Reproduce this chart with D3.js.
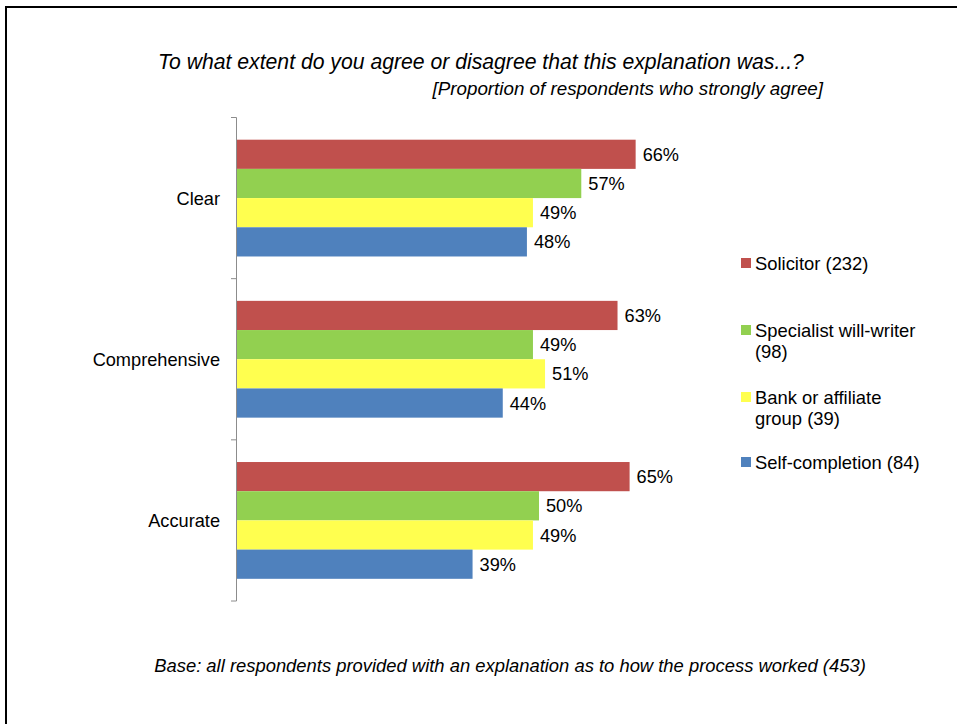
<!DOCTYPE html>
<html>
<head>
<meta charset="utf-8">
<script src="https://cdn.jsdelivr.net/npm/d3@7"></script>
<style>
  html, body { margin: 0; padding: 0; background: #fff; }
  svg { display: block; font-family: "Liberation Sans", Arial, sans-serif; }
</style>
</head>
<body>
<svg id="chart" width="957" height="724"></svg>
<script>
const categories = ["Clear", "Comprehensive", "Accurate"];
const seriesNames = ["Solicitor (232)", "Specialist will-writer (98)", "Bank or affiliate group (39)", "Self-completion (84)"];
const legendLines = [["Solicitor (232)"], ["Specialist will-writer", "(98)"], ["Bank or affiliate", "group (39)"], ["Self-completion (84)"]];
const solicitor = [0.66, 0.63, 0.65];
const specialist = [0.57, 0.49, 0.50];
const bank = [0.49, 0.51, 0.49];
const selfCompletion = [0.48, 0.44, 0.39];
const colors = ["#C0504D", "#92D050", "#FFFF4F", "#4F81BD"];
const titleText = "To what extent do you agree or disagree that this explanation was...?";
const subtitleText = "[Proportion of respondents who strongly agree]";
const footText = "Base: all respondents provided with an explanation as to how the process worked (453)";

const seriesValues = [solicitor, specialist, bank, selfCompletion];
const data = categories.map((c, i) => ({
  cat: c,
  vals: seriesNames.map((s, j) => ({ s, j, v: seriesValues[j][i] }))
}));

const svg = d3.select("#chart");

// frame
svg.append("rect").attr("x", 6).attr("y", 7).attr("width", 1000).attr("height", 800)
  .attr("fill", "none").attr("stroke", "#000").attr("stroke-width", 2);

// titles
svg.append("text").attr("x", 158).attr("y", 69).attr("font-size", 21.2)
  .attr("font-style", "italic").attr("fill", "#000").text(titleText);
svg.append("text").attr("x", 823).attr("y", 95).attr("font-size", 18.8)
  .attr("text-anchor", "end").attr("font-style", "italic").attr("fill", "#000").text(subtitleText);
svg.append("text").attr("x", 510).attr("y", 672).attr("font-size", 18.4)
  .attr("text-anchor", "middle").attr("font-style", "italic").attr("fill", "#000").text(footText);

const x = d3.scaleLinear().domain([0, 1]).range([237, 841]);
const y = d3.scaleBand().domain(categories).range([117.5, 601]).paddingInner(0).paddingOuter(0);
const ys = d3.scaleBand().domain(seriesNames).range([0, y.bandwidth()]).paddingInner(0).paddingOuter(0.76);

// bars
const groups = svg.append("g").selectAll("g").data(data).join("g")
  .attr("transform", d => `translate(0,${y(d.cat)})`);
groups.selectAll("rect").data(d => d.vals).join("rect")
  .attr("x", x(0)).attr("y", d => ys(d.s))
  .attr("width", d => x(d.v) - x(0)).attr("height", ys.bandwidth())
  .attr("fill", d => colors[d.j]);
groups.selectAll("text").data(d => d.vals).join("text")
  .attr("x", d => x(d.v) + 7).attr("y", d => ys(d.s) + ys.bandwidth() / 2)
  .attr("dy", "0.36em").attr("font-size", 18.2).attr("fill", "#000")
  .text(d => Math.round(d.v * 100) + "%");

// axis
const axisG = svg.append("g");
const bounds = categories.map(c => y(c)).concat([y.range()[1]]);
axisG.append("line").attr("x1", 236.5).attr("x2", 236.5)
  .attr("y1", bounds[0]).attr("y2", bounds[bounds.length - 1])
  .attr("stroke", "#8C8C8C").attr("stroke-width", 1);
axisG.selectAll("line.tick").data(bounds).join("line").attr("class", "tick")
  .attr("x1", 231).attr("x2", 236.5).attr("y1", d => d).attr("y2", d => d)
  .attr("stroke", "#8C8C8C").attr("stroke-width", 1);
axisG.selectAll("text").data(categories).join("text")
  .attr("x", 220).attr("y", d => y(d) + y.bandwidth() / 2).attr("dy", "0.36em")
  .attr("text-anchor", "end").attr("font-size", 18.2).attr("fill", "#000").text(d => d);

// legend
const legendY = [263, 330, 397, 462];
const leg = svg.append("g").selectAll("g").data(seriesNames).join("g")
  .attr("transform", (d, i) => `translate(741,${legendY[i]})`);
leg.append("rect").attr("x", 0).attr("y", -5).attr("width", 10).attr("height", 10)
  .attr("fill", (d, i) => colors[i]);
leg.each(function(d, i) {
  const t = d3.select(this).append("text").attr("font-size", 18.4).attr("fill", "#000");
  legendLines[i].forEach((line, k) => {
    t.append("tspan").attr("x", 14).attr("y", 7 + k * 21).text(line);
  });
});
</script>
</body>
</html>
